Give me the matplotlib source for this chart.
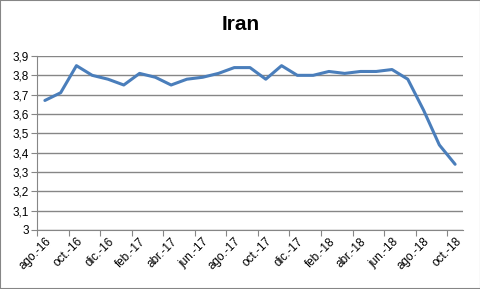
import matplotlib

matplotlib.use('Agg')
import matplotlib.pyplot as plt
from matplotlib.patches import Rectangle
from matplotlib.ticker import FuncFormatter
import numpy as np

months = ["ago.-16", "sep.-16", "oct.-16", "nov.-16", "dic.-16", "ene.-17",
          "feb.-17", "mar.-17", "abr.-17", "may.-17", "jun.-17", "jul.-17",
          "ago.-17", "sep.-17", "oct.-17", "nov.-17", "dic.-17", "ene.-18",
          "feb.-18", "mar.-18", "abr.-18", "may.-18", "jun.-18", "jul.-18",
          "ago.-18", "sep.-18", "oct.-18"]
values = [3.67, 3.71, 3.85, 3.80, 3.78, 3.75,
          3.81, 3.79, 3.75, 3.78, 3.79, 3.81,
          3.84, 3.84, 3.78, 3.85, 3.80, 3.80,
          3.82, 3.81, 3.82, 3.82, 3.83, 3.78,
          3.62, 3.44, 3.34]

plt.rcParams['font.family'] = ['Liberation Sans', 'DejaVu Sans']

fig = plt.figure(figsize=(4.81, 2.89), dpi=100)
ax = fig.add_axes([37 / 481, 1 - 230 / 289, 426 / 481, 174 / 289])

x = np.arange(len(values))
ax.plot(x, values, color='#4A7EBB', linewidth=2.2, solid_capstyle='round', zorder=3)

ax.set_xlim(-0.5, len(values) - 0.5)
ax.set_ylim(3.0, 3.9)
ax.set_yticks(np.arange(3.0, 3.91, 0.1))
ax.yaxis.set_major_formatter(FuncFormatter(lambda v, p: f"{v:.1f}".replace('.', ',').replace(',0', '')))
ax.grid(axis='y', color='#868686', linewidth=1.0)
ax.set_axisbelow(True)

# ticks between categories, labels on every second month
ax.set_xticks(np.arange(-0.5, len(values) - 1, 2))
ax.set_xticklabels([])
ax.set_xticks(x[::2], minor=True)
ax.set_xticklabels(months[::2], minor=True, rotation=45, ha='right',
                   rotation_mode='anchor', fontsize=8.5)
ax.tick_params(axis='x', which='minor', length=0, pad=4)
ax.tick_params(axis='x', which='major', length=4, color='#868686')
ax.tick_params(axis='y', length=4, color='#868686', labelsize=8.5, pad=2)

for side in ['top', 'right']:
    ax.spines[side].set_visible(False)
for side in ['left', 'bottom']:
    ax.spines[side].set_color('#868686')

fig.text(0.5, 1 - 25 / 289, "Iran", ha='center', va='center', fontsize=15, fontweight='bold')
fig.patches.append(Rectangle((0, 0), 1, 1, transform=fig.transFigure, fill=False,
                             edgecolor='#868686', linewidth=1.5))

fig.savefig('out.png', dpi=100)
